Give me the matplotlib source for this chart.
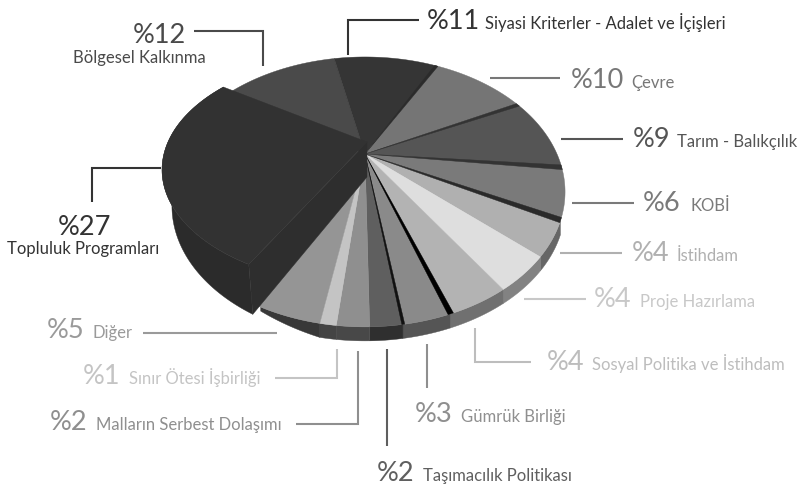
import numpy as np
import matplotlib
matplotlib.use("Agg")
import matplotlib.pyplot as plt

plt.rcParams["font.family"] = ["Lato", "DejaVu Sans"]

# Veriler (saat yönünde, Bölgesel Kalkınma'dan başlayarak)
names = ["Bölgesel Kalkınma", "Siyasi Kriterler - Adalet ve İçişleri", "Çevre",
         "Tarım - Balıkçılık", "KOBİ", "İstihdam", "Proje Hazırlama",
         "Sosyal Politika ve İstihdam", "Gümrük Birliği", "Taşımacılık Politikası",
         "Malların Serbest Dolaşımı", "Sınır Ötesi İşbirliği", "Diğer",
         "Topluluk Programları"]
values = [12, 11, 10, 9, 6, 4, 4, 4, 3, 2, 2, 1, 5, 27]
top_colors = ["#4a4a4a", "#353535", "#757575", "#555555", "#7a7a7a", "#b0b0b0", "#dedede",
              "#b3b3b3", "#8a8a8a", "#5f5f5f", "#8f8f8f", "#c4c4c4", "#959595", "#323232"]
wall_colors = ["#333333", "#2a2a2a", "#444444", "#3a3a3a", "#444444", "#666666", "#828282",
               "#707070", "#555555", "#2f2f2f", "#484848", "#444444", "#383838", "#2b2b2b"]
text_colors = ["#4a4a4a", "#333333", "#777777", "#555555", "#7a7a7a", "#b0b0b0", "#c8c8c8",
               "#bdbdbd", "#8f8f8f", "#5f5f5f", "#8f8f8f", "#c4c4c4", "#9a9a9a", "#333333"]

START = 305.0
CX, CY, W, H, K = 365.0, 155.0, 192.0, 124.3, 0.281
DEPTH = 14.0


def project(angle, r=1.0, cx=CX, cy=CY, w=W, h=H, k=K):
    a = np.radians(angle)
    x, z = r * np.sin(a), r * np.cos(a)
    d = 1 + k * z
    return cx + w * x / d, cy - h * z / d


def arc(a0, a1, **kw):
    t = np.linspace(a0, a1, max(int(abs(a1 - a0)) * 2, 8))
    return project(t, **kw)


def face(ax, a0, a1, color, zorder, **kw):
    x, y = arc(a0, a1, **kw)
    cx, cy = project(0.0, 0.0, **kw)
    ax.fill(np.r_[cx, x], np.r_[cy, y], color=color, lw=0.3, zorder=zorder)


def wall(ax, a0, a1, color, zorder, d0=DEPTH, d1=DEPTH):
    x, y = arc(a0, a1)
    d = np.linspace(d0, d1, len(x))
    ax.fill(np.r_[x, x[::-1]], np.r_[y, (y + d)[::-1]], color=color, lw=0.3, zorder=zorder)


fig = plt.figure(figsize=(8.02, 4.89), dpi=100)
ax = fig.add_axes([0, 0, 1, 1])
ax.set_xlim(0, 802)
ax.set_ylim(489, 0)
ax.axis("off")

cum = START + np.r_[0, np.cumsum(values)] * 3.6

# Duvarlar ve üst yüzeyler
for i in range(len(values) - 1):
    if 115 < (cum[i] % 360) < 270:
        if names[i] == "Diğer":
            # Diğer dilimi kesik yüzün arkasına doğru inceliyor
            wall(ax, cum[i], cum[i] + 14, wall_colors[i], 2, d0=DEPTH, d1=4)
        else:
            wall(ax, cum[i], cum[i + 1], wall_colors[i], 2)
    face(ax, cum[i], cum[i + 1], top_colors[i], 3)

# Dilimler arasındaki koyu çizgiler
for i, width, col in [(2, 0.8, "#2b2b2b"), (3, 1.0, "#333333"), (4, 1.3, "#333333"), (5, 1.3, "#2a2a2a"),
                      (8, 0.8, "#000000"), (9, 0.4, "#111111")]:
    face(ax, cum[i] - width, cum[i] + width * 0.6, col, 4)

# Topluluk Programları: yükseltilmiş dilim
raised = dict(cx=366.0, cy=143.0, w=198.0, h=109.0, k=0.24)
lower = dict(cx=372.0, w=192.0)
a0, a1 = cum[-2], cum[-1]
x0, y0 = arc(a0, a1, **lower)
x1, y1 = arc(a0, a1, **raised)
ax.fill(np.r_[x1, x0[::-1]], np.r_[y1, y0[::-1] + DEPTH], color=wall_colors[-1], lw=0.3, zorder=5)
ax.fill([367, x1[0], x0[0], 367], [143, y1[0], y0[0] + DEPTH, 178], color="#2e2e2e", lw=0.3, zorder=5)
ax.fill(np.r_[367, x1], np.r_[143, y1], color=top_colors[-1], lw=0.3, zorder=6)

# Etiketler: (yüzde x, yüzde taban çizgisi, ad x, ad taban çizgisi)
label_pos = [(133, 43, 73, 63), (427, 29, 485, 29), (571, 88, 631, 88), (633, 147, 677, 147),
             (643, 211, 690, 211), (632, 261, 677, 261), (594, 307, 640, 307), (547, 370, 592, 370),
             (415, 422, 461, 422), (377, 481, 423, 481), (50, 430, 96, 430), (83, 384, 129, 384),
             (47, 338, 93, 338), (58, 235, 7, 254)]
for i, (px, py, nx, ny) in enumerate(label_pos):
    ax.text(px, py, f"%{values[i]}", fontsize=19.5, color=text_colors[i], va="baseline", ha="left")
    ax.text(nx, ny, names[i], fontsize=12, color=text_colors[i], va="baseline", ha="left")

# Kılavuz çizgileri
leaders = [([194, 263, 263], [32, 32, 67]), ([348, 348, 419], [56, 21, 21]), ([490, 560], [79, 79]),
           ([561, 623], [140, 140]), ([572, 634], [204, 204]), ([560, 622], [254, 254]),
           ([524, 586], [300, 300]), ([475, 475, 531], [329, 363, 363]), ([427, 427], [345, 389]),
           ([387, 387], [350, 447]), ([358, 358, 296], [352, 425, 425]), ([337, 337, 275], [350, 379, 379]),
           ([143, 277], [334, 334]), ([161, 92, 92], [169, 169, 203])]
for i, (lx, ly) in enumerate(leaders):
    ax.plot(lx, ly, color=text_colors[i], lw=1.5, solid_capstyle="butt", solid_joinstyle="miter")

fig.savefig("out.png", dpi=100)
